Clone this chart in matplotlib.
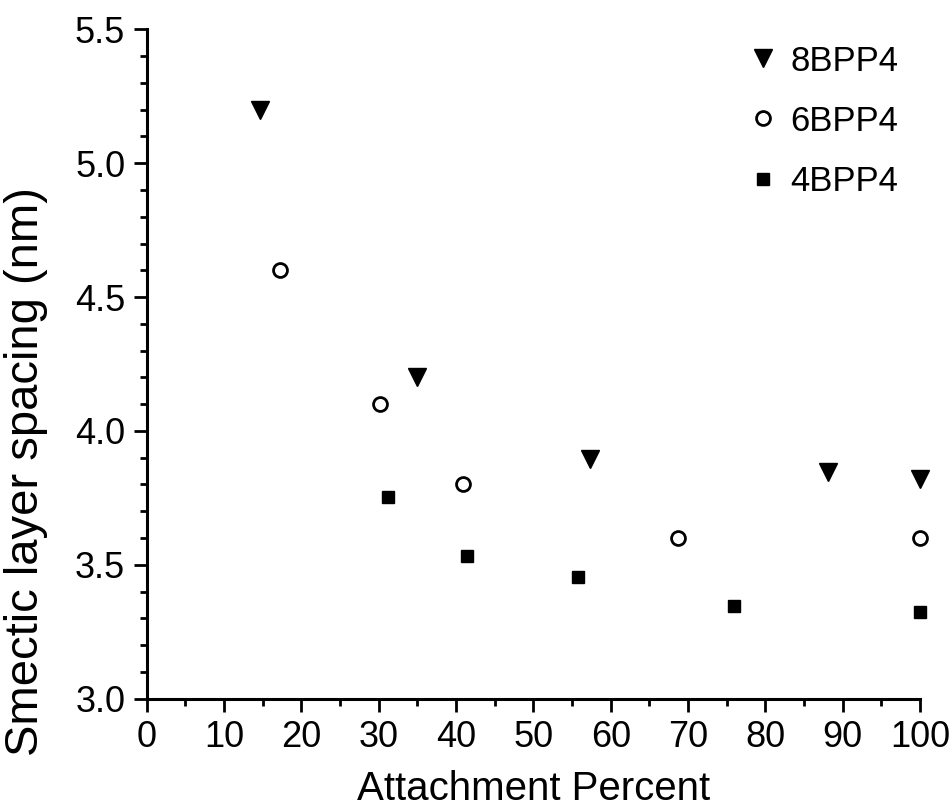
import matplotlib
matplotlib.use("Agg")
import matplotlib.pyplot as plt
from matplotlib.ticker import MultipleLocator, FormatStrFormatter

plt.rcParams['font.family'] = ['Liberation Sans', 'DejaVu Sans']

x_8 = [14.6, 35.0, 57.3, 88.1, 100.0]
y_8 = [5.20, 4.20, 3.895, 3.848, 3.82]
x_6 = [17.2, 30.2, 40.9, 68.7, 100.0]
y_6 = [4.60, 4.10, 3.80, 3.60, 3.60]
x_4 = [31.2, 41.4, 55.8, 75.9, 100.0]
y_4 = [3.754, 3.534, 3.453, 3.346, 3.325]

fig = plt.figure(figsize=(9.51, 8.08), dpi=100)
ax = fig.add_axes([0.1543, 0.1353, 0.8131, 0.8284])

ax.plot(x_8, y_8, 'v', color='black', markersize=13, linestyle='none', clip_on=False, label='8BPP4')
ax.plot(x_6, y_6, 'o', markerfacecolor='white', markeredgecolor='black', markeredgewidth=2,
        markersize=10, linestyle='none', clip_on=False, label='6BPP4')
ax.plot(x_4, y_4, 's', color='black', markersize=9, linestyle='none', clip_on=False, label='4BPP4')

ax.set_xlim(0, 100)
ax.set_ylim(3.0, 5.5)
ax.xaxis.set_major_locator(MultipleLocator(10))
ax.xaxis.set_minor_locator(MultipleLocator(5))
ax.yaxis.set_major_locator(MultipleLocator(0.5))
ax.yaxis.set_minor_locator(MultipleLocator(0.1))
ax.yaxis.set_major_formatter(FormatStrFormatter('%.1f'))

for s in ['top', 'right']:
    ax.spines[s].set_visible(False)
for s in ['left', 'bottom']:
    ax.spines[s].set_linewidth(2.2)

ax.tick_params(which='major', direction='out', length=9.5, width=2.0, labelsize=26, pad=6)
ax.tick_params(which='minor', direction='out', length=5, width=2.0)

ax.set_xlabel('Attachment Percent', fontsize=29, labelpad=11)
ax.set_ylabel('Smectic layer spacing (nm)', fontsize=34)
ax.yaxis.set_label_coords(-0.128, 0.34)

ax.legend(loc='upper right', frameon=False, fontsize=25, handletextpad=0.3,
          labelspacing=0.78, borderaxespad=0.0, handlelength=1.0,
          bbox_to_anchor=(0.99, 0.998))

fig.savefig('out.png', dpi=100)
